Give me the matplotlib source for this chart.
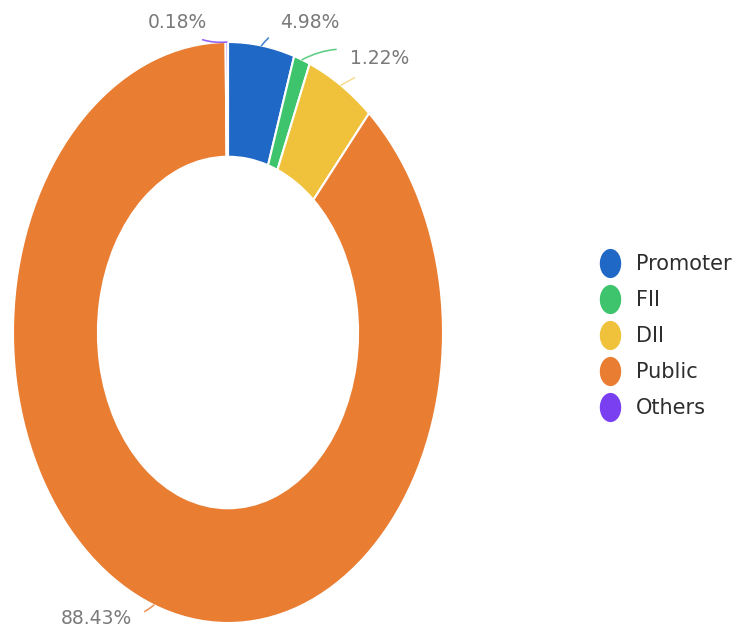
import numpy as np
import matplotlib.pyplot as plt
from matplotlib.lines import Line2D
from matplotlib.path import Path
from matplotlib.transforms import Affine2D

categories = ['Promoter', 'FII', 'DII', 'Public', 'Others']
values = [4.98, 1.22, 5.19, 88.43, 0.18]
colors = ['#2068c6', '#3ec46c', '#f0c23c', '#e97d32', '#7a3ff0']
pct_labels = ['4.98%', '1.22%', '', '88.43%', '0.18%']

# label anchor in figure pixels from top-left, and alignment
label_pos = [(280, 23, 'left'), (350, 58, 'left'), None, (132, 618, 'right'), (207, 23, 'right')]
W, H = 744, 632

fig = plt.figure(figsize=(W / 100, H / 100), dpi=100)
ax = fig.add_axes([13 / W, 9 / H, 430 / W, 581 / H])

wedges, _ = ax.pie(values, colors=colors, startangle=90, counterclock=False, radius=1,
                   wedgeprops=dict(width=0.395, edgecolor='white', linewidth=1.5))
ax.set_aspect('auto')
ax.set_xlim(-1, 1)
ax.set_ylim(-1, 1)
ax.axis('off')

for w, txt, pos, c in zip(wedges, pct_labels, label_pos, colors):
    mid = np.deg2rad((w.theta1 + w.theta2) / 2)
    edge = (np.cos(mid), np.sin(mid))
    if pos is None:
        # leader with no visible label
        ax.plot([edge[0], edge[0] * 1.12], [edge[1], edge[1] * 1.03],
                color=c, lw=1, alpha=0.6, clip_on=False)
        continue
    x, y, ha = pos
    ax.annotate(txt, xy=edge, xycoords='data', xytext=(x, H - y), textcoords='figure pixels',
                ha=ha, va='center', fontsize=13.5, color='#7a7a7a',
                arrowprops=dict(arrowstyle='-', color=c, lw=1.2, alpha=0.8,
                                shrinkA=8, shrinkB=0, connectionstyle='arc3,rad=0.25'))

ellipse = Path.unit_circle().transformed(Affine2D().scale(0.72, 1.0))
handles = [Line2D([], [], marker=ellipse, linestyle='none', markersize=20,
                  markerfacecolor=c, markeredgecolor=c) for c in colors]
fig.legend(handles, categories, loc='center left', bbox_to_anchor=(581 / W, 1 - 336 / H),
           frameon=False, fontsize=15, handlelength=1.0, handletextpad=0.75,
           labelspacing=0.77, labelcolor='#2e2e2e')

fig.savefig('out.png', dpi=100)
